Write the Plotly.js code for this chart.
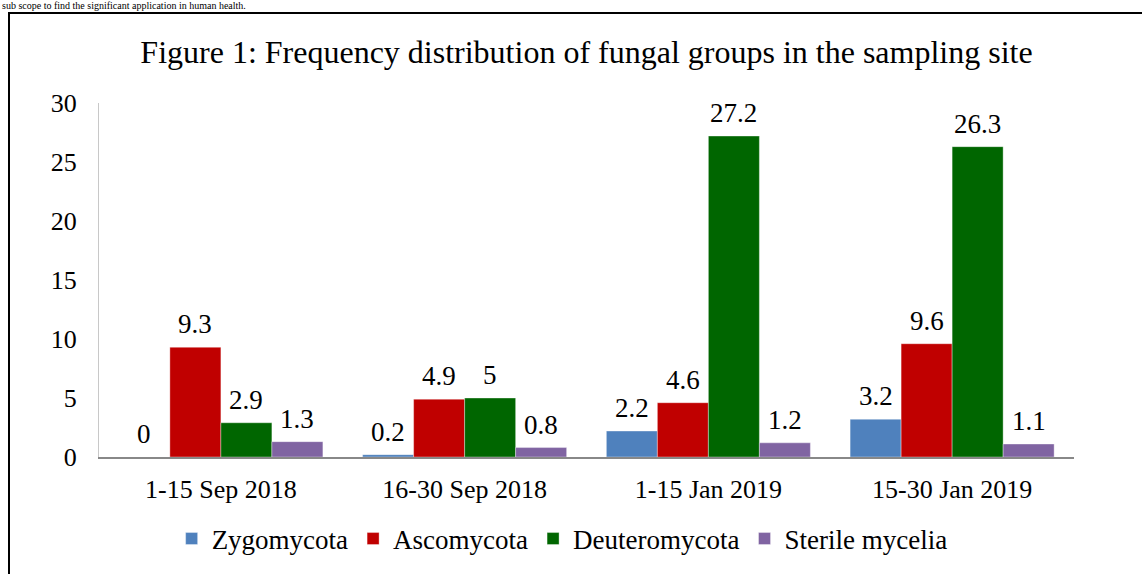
<!DOCTYPE html>
<html>
<head>
<meta charset="utf-8">
<script src="https://cdn.plot.ly/plotly-3.0.1.min.js"></script>
<style>html,body{margin:0;padding:0;background:#fff;}#chart{width:1142px;height:574px;}</style>
</head>
<body>
<div id="chart"></div>
<script>
const categories = ["1-15 Sep 2018", "16-30 Sep 2018", "1-15 Jan 2019", "15-30 Jan 2019"];
const seriesNames = ["Zygomycota", "Ascomycota", "Deuteromycota", "Sterile mycelia"];
const zygomycota = [0, 0.2, 2.2, 3.2];
const ascomycota = [9.3, 4.9, 4.6, 9.6];
const deuteromycota = [2.9, 5, 27.2, 26.3];
const sterileMycelia = [1.3, 0.8, 1.2, 1.1];
const yTicks = [0, 5, 10, 15, 20, 25, 30];
const titleText = "Figure 1: Frequency distribution of fungal groups in the sampling site";
const pageText = "sub scope to find the significant application in human health.";

const colors = ["#4F81BD", "#C00000", "#006600", "#8064A2"];
const allSeries = [zygomycota, ascomycota, deuteromycota, sterileMycelia];
const font = "Liberation Serif, Times New Roman, serif";

const traces = allSeries.map((vals, i) => ({
  type: "bar",
  name: seriesNames[i],
  x: categories,
  y: vals,
  marker: {color: colors[i], line: {color: "rgba(255,255,255,0.6)", width: 0.6}},
  hoverinfo: "skip"
}));

const L = {l: 99, r: 68, t: 103, b: 117};
const plotW = 1142 - L.l - L.r;
const plotH = 574 - L.t - L.b;
const catW = plotW / categories.length;
const bargap = 0.163;
const barW = catW * (1 - bargap) / allSeries.length;
const annotations = [];
allSeries.forEach((vals, i) => {
  vals.forEach((v, j) => {
    annotations.push({
      x: categories[j], y: v, xref: "x", yref: "y",
      text: String(v), showarrow: false,
      xanchor: "center", yanchor: "bottom",
      xshift: (i - 1.5) * barW, yshift: 6,
      font: {family: font, size: 27, color: "#000"}
    });
  });
});
annotations.push({
  xref: "paper", yref: "paper", x: (0 - L.l) / plotW, y: (457 - 5) / plotH,
  xanchor: "left", yanchor: "middle", showarrow: false,
  text: pageText, font: {family: font, size: 10, color: "#000"}
});

const layout = {
  width: 1142, height: 574,
  margin: L,
  paper_bgcolor: "#fff", plot_bgcolor: "#fff",
  title: {text: titleText, font: {family: font, size: 32, color: "#000"}, x: 0.5, xanchor: "center", y: 1 - 52/574, yanchor: "middle", xref: "paper"},
  barmode: "group", bargap: bargap, bargroupgap: 0,
  showlegend: true,
  legend: {orientation: "h", x: 0.475, xanchor: "center", xref: "paper",
           yref: "container", y: 1 - 539 / 574, yanchor: "middle",
           font: {family: font, size: 27, color: "#000"}, itemwidth: 30, traceorder: "normal"},
  xaxis: {type: "category", showline: true, linecolor: "#888", linewidth: 2, ticks: "",
          tickfont: {family: font, size: 26, color: "#000"}, showgrid: false, zeroline: false,
          ticklabelstandoff: 8, automargin: false},
  yaxis: {range: [0, 30], tickvals: yTicks, ticktext: yTicks.map(String), showline: true, linecolor: "#c8c8c8", linewidth: 1,
          ticks: "", showgrid: false, zeroline: false, automargin: false,
          tickfont: {family: font, size: 26, color: "#000"}, ticklabelstandoff: 16},
  annotations: annotations,
  shapes: [{type: "rect", xref: "paper", yref: "paper",
            x0: (9 - L.l) / plotW, x1: (1160 - L.l) / plotW,
            y0: (457 - 600) / plotH, y1: (457 - 13) / plotH,
            line: {color: "#000", width: 2}, fillcolor: "rgba(0,0,0,0)", layer: "below"}]
};

Plotly.newPlot("chart", traces, layout, {displayModeBar: false, staticPlot: true});
</script>
</body>
</html>
